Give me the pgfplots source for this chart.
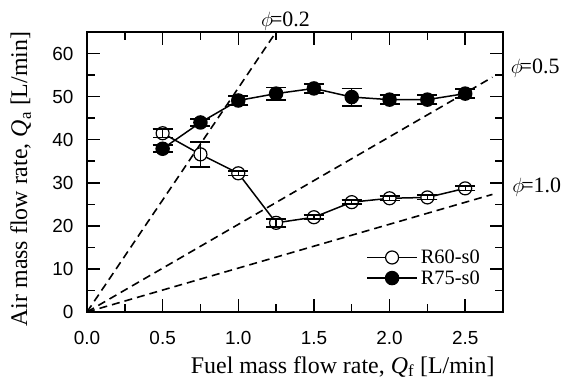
\documentclass[border=0pt]{standalone}
\usepackage{fontspec}
\setmainfont{Liberation Serif}
\setsansfont{Liberation Sans}
\usepackage{pgfplots}
\pgfplotsset{compat=1.18}
\pgfplotstableread{
x y e
0.50 41.5 1.0
0.75 36.6 2.9
1.00 32.2 0.5
1.25 20.7 0.9
1.50 22.0 0.5
1.75 25.5 0.5
2.00 26.4 0.5
2.25 26.6 0.5
2.50 28.7 0.5
}\Rsixty
\pgfplotstableread{
x y e
0.50 37.9 0.8
0.75 44.0 0.8
1.00 49.1 1.1
1.25 50.7 1.4
1.50 51.9 1.1
1.75 49.9 2.0
2.00 49.3 1.0
2.25 49.3 1.0
2.50 50.7 1.0
}\Rseventyfive
\begin{document}
\begin{tikzpicture}
\begin{axis}[
  scale only axis, width=416bp, height=280bp,
  xmin=0, xmax=2.75, ymin=0, ymax=65,
  clip mode=individual,
  xtick={0,0.5,1,1.5,2,2.5}, xticklabels={0.0,0.5,1.0,1.5,2.0,2.5},
  minor xtick={0.25,0.75,1.25,1.75,2.25},
  ytick={0,10,20,30,40,50,60}, yticklabels={0,10,20,30,40,50,60},
  minor ytick={5,15,25,35,45,55},
  tick align=inside, major tick length=13bp, minor tick length=8bp,
  axis line style={line width=1.8bp},
  every tick/.style={line width=1.5bp, black},
  ticklabel style={font=\sffamily\fontsize{19}{22}\selectfont},
  xticklabel style={yshift=-16bp},
  yticklabel style={xshift=-10bp},
  xlabel={Fuel mass flow rate, \textit{Q}\textsubscript{f} [L/min]},
  ylabel={Air mass flow rate, \textit{Q}\textsubscript{a} [L/min]},
  label style={font=\fontsize{24}{28}\selectfont},
  xlabel style={at={(axis description cs:0.988,-0.218)}, anchor=base east},
  ylabel style={at={(axis description cs:-0.144,0.475)}, anchor=base, rotate=0},
  legend style={draw=none, fill=none, at={(axis description cs:0.952,0.09)}, anchor=south east,
    font=\fontsize{20.5}{23}\selectfont, row sep=3.5bp, inner sep=0pt,
    nodes={inner xsep=3bp, inner ysep=1bp}},
  legend cell align=left,
  legend image code/.code={\draw[mark repeat=2,mark phase=2,#1] plot coordinates {(0bp,0bp) (25bp,0bp) (50bp,0bp)};},
]
\addplot[forget plot, black, line width=1.6bp, dash pattern=on 8bp off 5bp] coordinates {(0,0) (1.25,65)};
\addplot[forget plot, black, line width=1.6bp, dash pattern=on 8bp off 5bp] coordinates {(0,0) (2.68,54.5)};
\addplot[forget plot, black, line width=1.6bp, dash pattern=on 8bp off 5bp] coordinates {(0,0) (2.68,27.3)};
\addplot[black, line width=1.5bp, mark=*, mark size=6.5bp, mark options={fill=white, line width=1.2bp},
  error bars/.cd, y dir=both, y explicit, error bar style={line width=1.3bp},
  error mark options={rotate=90, mark size=10bp, line width=1.8bp}]
  table[x=x, y=y, y error=e] {\Rsixty};
\addlegendentry{R60-s0}
\addplot[black, line width=1.5bp, mark=*, mark size=6.5bp, mark options={fill=black},
  error bars/.cd, y dir=both, y explicit, error bar style={line width=1.3bp},
  error mark options={rotate=90, mark size=10bp, line width=1.8bp}]
  table[x=x, y=y, y error=e] {\Rseventyfive};
\addlegendentry{R75-s0}
\addplot[forget plot, draw=none, mark=none,
  error bars/.cd, y dir=both, y explicit, error bar style={line width=1.3bp},
  error mark options={rotate=90, mark size=10bp, line width=1.8bp}]
  table[x=x, y=y, y error=e] {\Rsixty};
\node[anchor=base west, inner sep=0pt, font=\fontsize{22}{26}\selectfont] at (axis cs:1.15,66.2) {$\phi$\kern-3bp=0.2};
\node[anchor=base west, inner sep=0pt, font=\fontsize{22}{26}\selectfont] at (axis cs:2.80,55.3) {$\phi$\kern-3bp=0.5};
\node[anchor=base west, inner sep=0pt, font=\fontsize{22}{26}\selectfont] at (axis cs:2.81,27.8) {$\phi$\kern-3bp=1.0};
\coordinate (O) at (rel axis cs:0,0);
\end{axis}
\pgfresetboundingbox
\path (O) ++(-87bp,-67bp) rectangle ++(563bp,379bp);
\end{tikzpicture}
\end{document}
